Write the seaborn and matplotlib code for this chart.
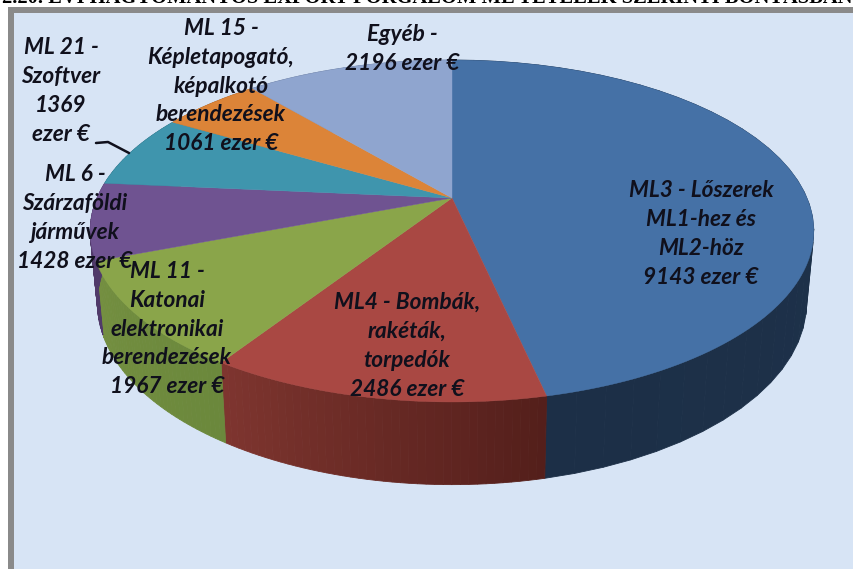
import numpy as np
import matplotlib
matplotlib.use('Agg')
import matplotlib.pyplot as plt
import seaborn as sns

# data (ezer euro)
values = [9143, 2486, 1967, 1428, 1369, 1061, 2196]
labels = [
    'ML3 - Lőszerek\nML1-hez és\nML2-höz\n9143 ezer €',
    'ML4 - Bombák,\nrakéták,\ntorpedók\n2486 ezer €',
    'ML 11 -\nKatonai\nelektronikai\nberendezések\n1967 ezer €',
    'ML 6 -\nSzárzaföldi\njárművek\n1428 ezer €',
    'ML 21 -\nSzoftver\n1369\nezer €',
    'ML 15 -\nKépletapogató,\nképalkotó\nberendezések\n1061 ezer €',
    'Egyéb -\n2196 ezer €',
]
label_x = [701, 407, 167, 75, 61, 221, 402]
label_y = [234, 346, 329, 218, 91, 86, 49]
top_colors = ['#4571a6', '#a94843', '#8aa54a', '#6f5391', '#3f95ad', '#dc8438', '#8fa5cf']
side_left = ['#20344d', '#7e352f', '#748f40', '#503a6a', '#2c6c7e', '#a05f28', '#66789a']
side_right = ['#1c2f47', '#541f1b', '#6b883c', '#503a6a', '#2c6c7e', '#a05f28', '#66789a']
title = '2.20. ÉVI HAGYOMÁNYOS EXPORT FORGALOM ML TÉTELEK SZERINTI BONTÁSBAN'

# perspective of the pie, in pixels
cx, cy = 452, 198
rx, ry, k = 355, 164.6, 0.193
depth, shrink = 70, 0.98


def top_edge(theta):
    x, y = np.sin(theta), np.cos(theta)
    w = 1 + k * y
    return cx + rx * x / w, cy - ry * y / w


def bottom_edge(theta):
    x, y = np.sin(theta), np.cos(theta)
    w = 1 + k * y
    return cx + shrink * rx * x / w, cy - shrink * ry * y / w + depth / w


sns.set_theme(style='white')
plt.rcParams['font.family'] = ['Lato', 'DejaVu Sans']

fig = plt.figure(figsize=(8.54, 5.69), dpi=100, facecolor='white')
ax = fig.add_axes([0, 0, 1, 1])
ax.set_xlim(0, 854)
ax.set_ylim(569, 0)
ax.axis('off')

# chart frame
ax.fill([8, 854, 854, 8], [7, 7, 569, 569], color='#8a8a8a', lw=0, zorder=0)
ax.fill([14, 854, 854, 14], [13, 13, 569, 569], color='#d7e4f5', lw=0, zorder=0)
ax.text(427, 2.5, title, ha='center', va='baseline', fontsize=14.8, fontweight='bold',
        family='Liberation Serif', color='black', zorder=1)

edges = np.cumsum([0] + values) / sum(values) * 2 * np.pi

# side walls, the top face covers the hidden part
for i in range(len(values)):
    n = 40
    th = np.linspace(edges[i], edges[i + 1], n + 1)
    shades = sns.blend_palette([side_right[i], side_left[i]], n)
    if i == 0:
        shades = sns.blend_palette([side_left[i], side_right[i]], n)
    for j in range(n):
        seg = np.array([th[j], th[j + 1]])
        tx, ty = top_edge(seg)
        bx, by = bottom_edge(seg)
        ax.fill(np.r_[tx, bx[::-1]], np.r_[ty, by[::-1]], color=shades[j], lw=0.6, zorder=2)

# top faces
for i in range(len(values)):
    th = np.linspace(edges[i], edges[i + 1], 120)
    tx, ty = top_edge(th)
    ax.fill(np.r_[cx, tx], np.r_[cy, ty], color=top_colors[i], lw=0.3, zorder=3)

# labels
for lab, x, y in zip(labels, label_x, label_y):
    ax.text(x, y, lab, ha='center', va='center', ma='center', fontsize=16.3, fontstyle='italic',
            fontweight='bold', color='#10101c', linespacing=1.47, zorder=5)

# leader line of ML 21
ax.plot([96, 108, 129], [143, 142, 153], color='#10101c', lw=1.8, zorder=4)

fig.savefig('out.png', dpi=100)
